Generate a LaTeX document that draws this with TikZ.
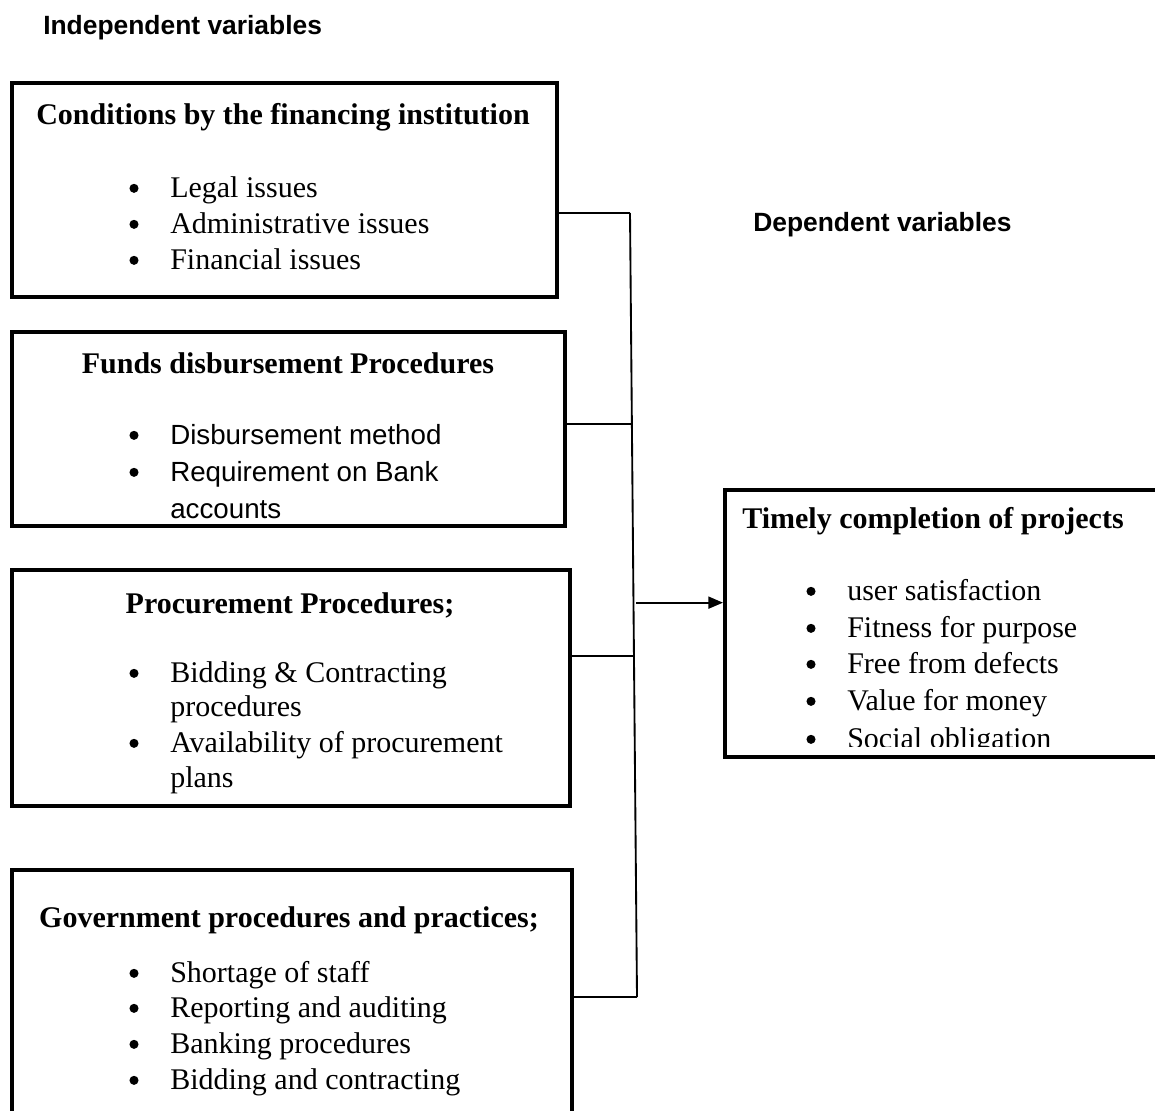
\documentclass[tikz,border=0pt]{standalone}
\usepackage{fontspec}
\setmainfont{Liberation Serif}
\newfontfamily\arialf{Liberation Sans}
\usetikzlibrary{arrows.meta,calc,fit}
\newcommand\myitem[5]{%
  \node[bul] (#1b) at (#3-36,#4) {};
  \node[#2] (#1) at (#3,#4) {#5};}
\begin{document}
\begin{tikzpicture}[x=0.75pt,y=-0.75pt,
  frame/.style={draw, line width=3pt, inner sep=0pt},
  ttl/.style={font=\fontsize{22.5}{27}\selectfont\bfseries, inner sep=0pt, anchor=mid, yshift=-5.25pt},
  itm/.style={font=\fontsize{22.5}{27}\selectfont, inner sep=0pt, anchor=mid west, yshift=-5.25pt},
  itms/.style={font=\arialf\fontsize{20.8}{25}\selectfont, inner sep=0pt, anchor=mid west, yshift=-5.25pt},
  bul/.style={circle, fill, inner sep=0pt, minimum size=6.8pt, yshift=-1pt},
  hdr/.style={font=\arialf\bfseries\fontsize{19.8}{24}\selectfont, inner sep=0pt, anchor=mid west, yshift=-4.5pt},
  link/.style={line width=1.4pt},
]
\useasboundingbox (0,0) rectangle (1155,1110);

% headers
\node[hdr] (h1) at (43,25) {Independent variables};
\node[hdr] (h2) at (753,222) {Dependent variables};

% box 1
\node[frame, fit={(12,83) (557,297)}] (b1) {};
\begin{scope}
\clip (14,85) rectangle (555,295);
\node[ttl] (b1t) at (283,114) {Conditions by the financing institution};
\myitem{b1i1}{itm}{170}{187}{Legal issues}
\myitem{b1i2}{itm}{170}{223}{Administrative issues}
\myitem{b1i3}{itm}{170}{259}{Financial issues}
\end{scope}

% box 2
\node[frame, fit={(12,332) (565,526)}] (b2) {};
\begin{scope}
\clip (14,334) rectangle (563,518);
\node[ttl] (b2t) at (288,363) {Funds disbursement Procedures};
\myitem{b2i1}{itms}{170}{434}{Disbursement method}
\myitem{b2i2}{itms}{170}{471}{Requirement on Bank}
\node[itms] (b2i3) at (170,508) {accounts};
\end{scope}

% box 3
\node[frame, fit={(12,570) (570,806)}] (b3) {};
\node[ttl] (b3t) at (290,603) {Procurement Procedures;};
\myitem{b3i1}{itm}{170}{672}{Bidding \& Contracting}
\node[itm] (b3i1c) at (170,706) {procedures};
\myitem{b3i2}{itm}{170}{742}{Availability of procurement}
\node[itm] (b3i2c) at (170,777) {plans};

% box 4
\node[frame, fit={(12,870) (572,1130)}] (b4) {};
\node[ttl] (b4t) at (289,917) {Government procedures and practices;};
\myitem{b4i1}{itm}{170}{972}{Shortage of staff}
\myitem{b4i2}{itm}{170}{1007}{Reporting and auditing}
\myitem{b4i3}{itm}{170}{1043}{Banking procedures}
\myitem{b4i4}{itm}{170}{1079}{Bidding and contracting}

% right box
\node[frame, fit={(725,490) (1170,757)}] (rb) {};
\begin{scope}
\clip (727,492) rectangle (1160,746);
\node[ttl] (rbt) at (933,518) {Timely completion of projects};
\myitem{rbi1}{itm}{847}{590}{user satisfaction}
\myitem{rbi2}{itm}{847}{627}{Fitness for purpose}
\myitem{rbi3}{itm}{847}{663}{Free from defects}
\myitem{rbi4}{itm}{847}{700}{Value for money}
\myitem{rbi5}{itm}{847}{738}{Social obligation}
\end{scope}

% connectors
\coordinate (j1) at (630,213);
\coordinate (j4) at (637,997);
\coordinate (j2) at ($(j1)!0.269!(j4)$);
\coordinate (j3) at ($(j1)!0.565!(j4)$);
\coordinate (ja) at ($(j1)!0.497!(j4)$);
\draw[link] (j1) -- (j4);
\draw[link] (b1.east |- j1) -- (j1);
\draw[link] (b2.east |- j2) -- (j2);
\draw[link] (b3.east |- j3) -- (j3);
\draw[link] (b4.east |- j4) -- (j4);
\draw[link, -{Triangle[length=11pt,width=9pt]}] ([xshift=2pt]ja) -- (rb.west |- ja);
\end{tikzpicture}
\end{document}
